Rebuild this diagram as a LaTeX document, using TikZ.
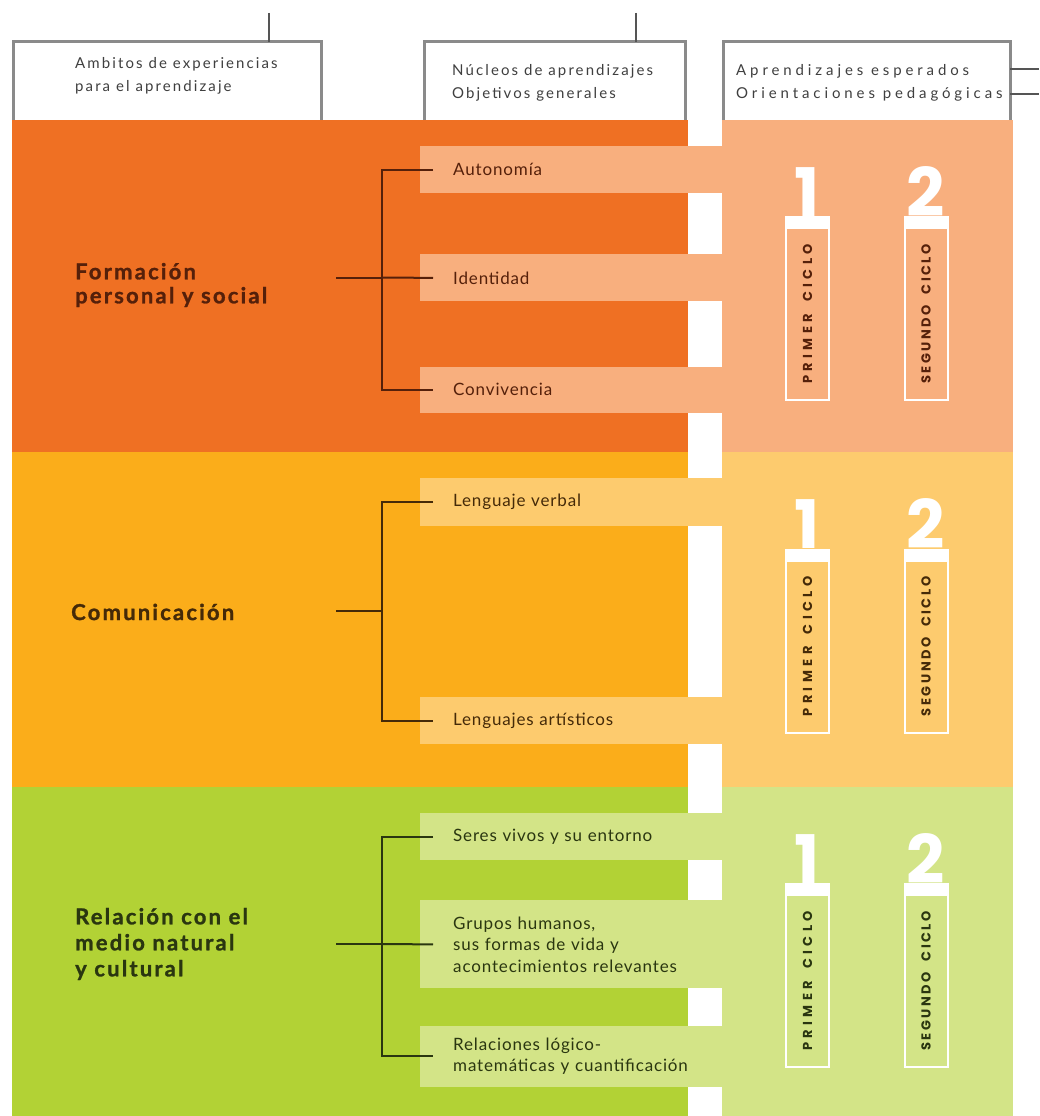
\documentclass[tikz,border=0pt]{standalone}
\usepackage{fontspec}
\usepackage{graphicx}
\setmainfont{Lato}
\newfontfamily\headfont{Lato}[LetterSpace=14]
\newfontfamily\headwidefont{Lato}[LetterSpace=26]
\newfontfamily\titlefont{Lato}[LetterSpace=10, BoldFeatures={FakeBold=1.2}]
\newfontfamily\itemfont{Lato}[LetterSpace=5]
\newfontfamily\digitfont{Poppins}
\newfontfamily\ciclofont{Poppins}[LetterSpace=34]
\newfontfamily\ciclotightfont{Poppins}[LetterSpace=20]
\usetikzlibrary{positioning}

\definecolor{FormDark}{HTML}{EF7023}
\definecolor{FormLight}{HTML}{F8AF7E}
\definecolor{FormInk}{HTML}{55200A}
\definecolor{ComDark}{HTML}{FBAD1A}
\definecolor{ComLight}{HTML}{FDCB6E}
\definecolor{ComInk}{HTML}{452A08}
\definecolor{RelDark}{HTML}{B2D235}
\definecolor{RelLight}{HTML}{D3E487}
\definecolor{RelInk}{HTML}{2A3610}
\definecolor{HeadGray}{HTML}{8A8A8A}
\definecolor{HeadInk}{HTML}{3F3F3F}
\definecolor{LinkGray}{HTML}{555555}

\begin{document}
\begin{tikzpicture}
[x=1pt, y=-1pt,
HeadFrame/.style={rectangle, minimum width=#1, minimum height=78pt, inner sep=0pt, anchor=north west},
HeadLine/.style={draw=HeadGray, line width=3pt},
LinkLine/.style={draw=LinkGray, line width=1.5pt},
HeadText/.style={align=left, anchor=west, inner sep=0pt, text=HeadInk,
  font=\headfont\fontsize{15}{23}\selectfont},
ItemNode/.style={rectangle, minimum width=302pt, minimum height=47pt,
  text width=236pt, inner xsep=33pt, inner ysep=0pt, align=left, anchor=west,
  font=\itemfont\fontsize{17}{21.5}\selectfont},
FormItem/.style={ItemNode, fill=FormLight, text=FormInk},
ComItem/.style={ItemNode, fill=ComLight, text=ComInk},
RelItem/.style={ItemNode, fill=RelLight, text=RelInk},
TitleNode/.style={align=left, anchor=west, inner sep=0pt,
  font=\titlefont\bfseries\fontsize{22}{24}\selectfont},
CycleBox/.style={rectangle, draw=white, line width=2pt, minimum width=43pt,
  minimum height=172pt, inner sep=0pt, font=\ciclofont\bfseries\fontsize{13}{13}\selectfont},
DigitNode/.style={anchor=base, inner sep=0pt, text=white,
  font=\digitfont\bfseries\fontsize{67}{67}\selectfont},
BracketLine/.style={line width=2pt}
]

\path[use as bounding box, fill=white] (0,0) rectangle (1039,1116);

% header boxes, open at the bottom
\node[HeadFrame=308pt] (ambitosBox) at (13,42) {};
\node[HeadFrame=261pt] (nucleosBox) at (424,42) {};
\node[HeadFrame=287pt] (aprendBox) at (723,42) {};
\draw[HeadLine] (ambitosBox.south west) -- (ambitosBox.north west) -- (ambitosBox.north east) -- (ambitosBox.south east);
\draw[HeadLine] (nucleosBox.south west) -- (nucleosBox.north west) -- (nucleosBox.north east) -- (nucleosBox.south east);
\draw[HeadLine] (aprendBox.south west) -- (aprendBox.north west) -- (aprendBox.north east) -- (aprendBox.south east);

\node[HeadText] (ambitos) at (75,75.5) {Ambitos de experiencias\\para el aprendizaje};
\node[HeadText] (nucleos) at (452,82.5) {Núcleos de aprendizajes\\Objetivos generales};
\node[HeadText, font=\headwidefont\fontsize{15}{23}\selectfont] (aprend) at (736,82.5) {Aprendizajes esperados\\Orientaciones pedagógicas};

\coordinate (ambitosTop) at (269,13);
\coordinate (nucleosTop) at (636,13);
\coordinate (aprendOutA) at (1039,69);
\coordinate (aprendOutB) at (1039,94);
\draw[LinkLine] (ambitosTop) -- (ambitosTop |- ambitosBox.north);
\draw[LinkLine] (nucleosTop) -- (nucleosTop |- nucleosBox.north);
\draw[LinkLine] (aprendOutA -| aprendBox.east) -- (aprendOutA);
\draw[LinkLine] (aprendOutB -| aprendBox.east) -- (aprendOutB);

% colour bands
\fill[FormDark] (12,120) rectangle (688,452);
\fill[FormLight] (722,120) rectangle (1013,452);
\fill[ComDark] (12,452) rectangle (688,787);
\fill[ComLight] (722,452) rectangle (1013,787);
\fill[RelDark] (12,787) rectangle (688,1116);
\fill[RelLight] (722,787) rectangle (1013,1116);

% Formacion personal y social
\node[TitleNode, text=FormInk] (formacion) at (75,285) {Formación\\personal y social};
\node[FormItem] (autonomia) at (420,169.5) {Autonomía};
\node[FormItem] (identidad) [below=61pt of autonomia] {Identidad};
\node[FormItem, minimum height=46pt] (convivencia) [below=65pt of identidad] {Convivencia};

% Comunicacion
\node[TitleNode, text=ComInk] (comunicacion) at (71,612) {Comunicación};
\node[ComItem, minimum height=48pt] (verbal) at (420,502) {Lenguaje verbal};
\node[ComItem] (artisticos) [below=171pt of verbal] {Lenguajes artísticos};

% Relacion con el medio natural y cultural
\node[TitleNode, text=RelInk, font=\titlefont\bfseries\fontsize{22}{26}\selectfont] (relacion) at (75,944) {Relación con el\\medio natural\\y cultural};
\node[RelItem] (seres) at (420,836.5) {Seres vivos y su entorno};
\node[RelItem, minimum height=88pt] (grupos) [below=40pt of seres] {Grupos humanos,\\sus formas de vida y\\acontecimientos relevantes};
\node[RelItem, minimum height=61pt] (relaciones) [below=37pt of grupos] {Relaciones lógico-\\matemáticas y cuantificación};

% brackets
\coordinate (formStem) at (336,277.5);
\coordinate (formKnee) at (382,277.5);
\coordinate (comStem) at (336,611);
\coordinate (comKnee) at (382,611);
\coordinate (relStem) at (336,944);
\coordinate (relKnee) at (382,944);

\draw[BracketLine, FormInk] (formStem) -- (formKnee);
\draw[BracketLine, FormInk] ([xshift=13pt]autonomia.west) -| (formKnee) |- ([xshift=13pt]convivencia.west);
\draw[BracketLine, FormInk] (formKnee) -- ([xshift=13pt]identidad.west);

\draw[BracketLine, ComInk] (comStem) -- (comKnee);
\draw[BracketLine, ComInk] ([xshift=13pt]verbal.west) -| (comKnee) |- ([xshift=13pt]artisticos.west);

\draw[BracketLine, RelInk] (relStem) -- (relKnee);
\draw[BracketLine, RelInk] ([xshift=13pt]seres.west) -| (relKnee) |- ([xshift=13pt]relaciones.west);
\draw[BracketLine, RelInk] (relKnee) -- ([xshift=13pt]grupos.west);

% ciclos
\node[CycleBox, text=FormInk] (form1) at (807.5,314) {\rotatebox{90}{PRIMER\hspace{5pt} CICLO}};
\node[CycleBox, text=FormInk] (form2) at (926,314) {\rotatebox{90}{\ciclotightfont SEGUNDO\hspace{5pt} CICLO}};
\node[CycleBox, text=ComInk] (com1) at (807.5,646.5) {\rotatebox{90}{PRIMER\hspace{5pt} CICLO}};
\node[CycleBox, text=ComInk] (com2) at (926,646.5) {\rotatebox{90}{\ciclotightfont SEGUNDO\hspace{5pt} CICLO}};
\node[CycleBox, text=RelInk] (rel1) at (807.5,981) {\rotatebox{90}{PRIMER\hspace{5pt} CICLO}};
\node[CycleBox, text=RelInk] (rel2) at (926,981) {\rotatebox{90}{\ciclotightfont SEGUNDO\hspace{5pt} CICLO}};

\fill[white] (form1.north west) rectangle ([yshift=11pt]form1.north east);
\fill[white] (form2.north west) rectangle ([yshift=11pt]form2.north east);
\fill[white] (com1.north west) rectangle ([yshift=11pt]com1.north east);
\fill[white] (com2.north west) rectangle ([yshift=11pt]com2.north east);
\fill[white] (rel1.north west) rectangle ([yshift=11pt]rel1.north east);
\fill[white] (rel2.north west) rectangle ([yshift=11pt]rel2.north east);

\node[DigitNode] (form1num) at ([yshift=11pt]form1.north) {1};
\node[DigitNode] (form2num) at ([yshift=11pt]form2.north) {2};
\node[DigitNode] (com1num) at ([yshift=11pt]com1.north) {1};
\node[DigitNode] (com2num) at ([yshift=11pt]com2.north) {2};
\node[DigitNode] (rel1num) at ([yshift=11pt]rel1.north) {1};
\node[DigitNode] (rel2num) at ([yshift=11pt]rel2.north) {2};
\end{tikzpicture}
\end{document}
